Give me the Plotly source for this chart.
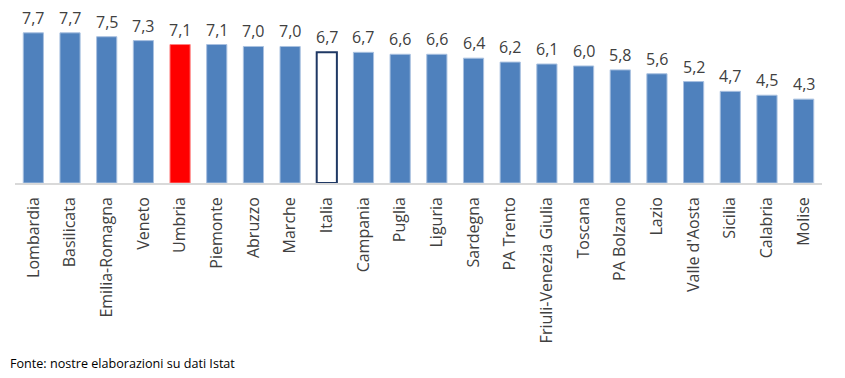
import plotly.graph_objects as go

regions = ["Lombardia", "Basilicata", "Emilia-Romagna", "Veneto", "Umbria", "Piemonte",
           "Abruzzo", "Marche", "Italia", "Campania", "Puglia", "Liguria", "Sardegna",
           "PA Trento", "Friuli-Venezia Giulia", "Toscana", "PA Bolzano", "Lazio",
           "Valle d'Aosta", "Sicilia", "Calabria", "Molise"]
values = [7.7, 7.7, 7.5, 7.3, 7.1, 7.1, 7.0, 7.0, 6.7, 6.7, 6.6, 6.6, 6.4,
          6.2, 6.1, 6.0, 5.8, 5.6, 5.2, 4.7, 4.5, 4.3]
value_labels = [f"{v:.1f}".replace(".", ",") for v in values]

BLUE = "#4F81BD"
fills = []
lines = []
widths = []
for r in regions:
    if r == "Umbria":
        fills.append("#FF0000"); lines.append("#FF8080"); widths.append(1)
    elif r == "Italia":
        fills.append("#FFFFFF"); lines.append("#1F3864"); widths.append(2)
    else:
        fills.append(BLUE); lines.append("#A9C1E0"); widths.append(1)

fig = go.Figure()
fig.add_trace(go.Bar(
    x=regions, y=values,
    marker=dict(color=fills, line=dict(color=lines, width=widths)),
    hoverinfo="x+y",
))

for r, v, t in zip(regions, values, value_labels):
    fig.add_annotation(x=r, y=v, text=t, showarrow=False, yanchor="bottom",
                       yshift=3, borderpad=0,
                       font=dict(family="Open Sans", size=16, color="#404040"))

fig.add_annotation(x=0, y=0, xref="paper", yref="paper", xanchor="left", yanchor="middle",
                   text="Fonte: nostre elaborazioni su dati Istat", showarrow=False,
                   xshift=-7, yshift=-180,
                   font=dict(family="Open Sans", size=12.6, color="#000000"))

fig.update_layout(
    width=837, height=370,
    margin=dict(l=7, r=23, t=2, b=195),
    paper_bgcolor="white", plot_bgcolor="white",
    bargap=0.45,
    showlegend=False,
    font=dict(family="Open Sans", color="#404040"),
)
fig.update_xaxes(
    tickangle=-90, showline=True, linecolor="#D9D9D9", linewidth=1.5,
    ticks="", tickfont=dict(family="Open Sans", size=16, color="#404040"),
    ticklabelstandoff=6, showgrid=False, automargin=False,
)
fig.update_yaxes(range=[0, 8.87], visible=False, showgrid=False, zeroline=False)

fig.write_html("out.html")
